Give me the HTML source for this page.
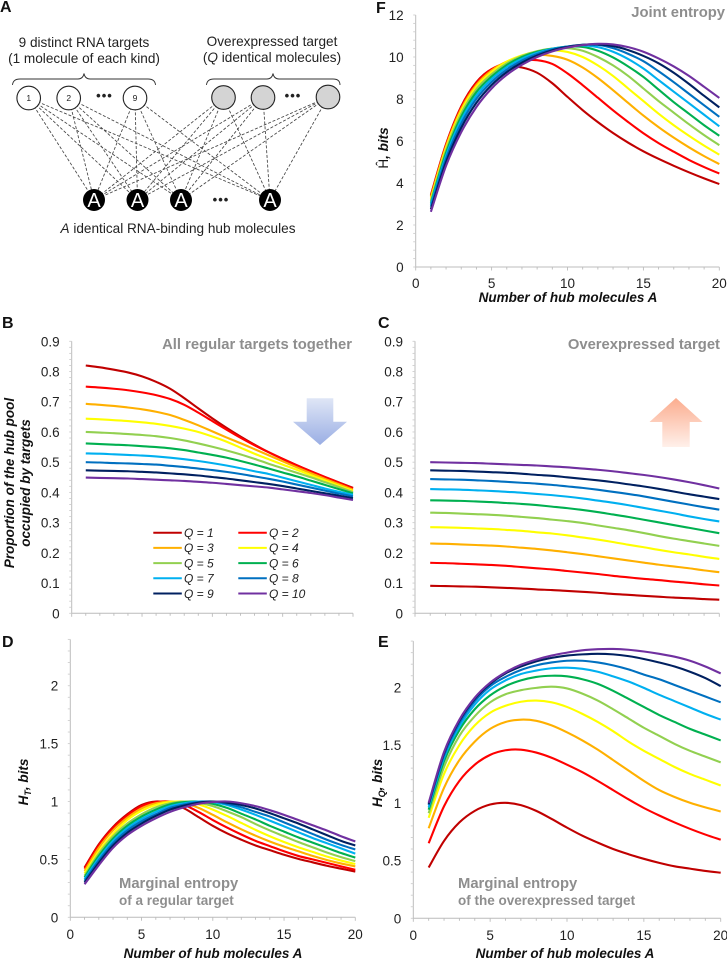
<!DOCTYPE html>
<html lang="en">
<head>
<meta charset="utf-8">
<title>Hub molecule entropy panels</title>
<style>
html,body{margin:0;padding:0;background:#fff;}
svg{display:block;font-family:"Liberation Sans",sans-serif;}
.panel-letter{font-size:16px;font-weight:bold;fill:#111;}
.dia{font-size:13.6px;fill:#222;}
.ttl{font-size:14.8px;font-weight:bold;fill:#8e8e8e;}
.ttl2{font-size:13.5px;font-weight:bold;fill:#8e8e8e;}
.axl{font-size:13.5px;font-weight:bold;font-style:italic;fill:#111;}
.tick{font-size:13.5px;fill:#222;}
.leg{font-size:12px;font-style:italic;fill:#222;}
</style>
</head>
<body>
<svg id="figure" xmlns="http://www.w3.org/2000/svg" width="727" height="961" viewBox="0 0 727 961">
<defs>
<linearGradient id="blueGrad" x1="0" y1="0" x2="0" y2="1"><stop offset="0" stop-color="#dfe6f6"/><stop offset="1" stop-color="#9aaee4"/></linearGradient>
<linearGradient id="redGrad" x1="0" y1="0" x2="0" y2="1"><stop offset="0" stop-color="#fbac8e"/><stop offset="1" stop-color="#fff0ea"/></linearGradient>
</defs>

<text class="panel-letter" x="0" y="12">A</text>
<text class="panel-letter" x="376" y="13">F</text>
<text class="panel-letter" x="2" y="328">B</text>
<text class="panel-letter" x="378" y="328">C</text>
<text class="panel-letter" x="2" y="647">D</text>
<text class="panel-letter" x="378" y="647">E</text>

<g id="diagram">
<text class="dia" x="84" y="47" text-anchor="middle">9 distinct RNA targets</text>
<text class="dia" x="84" y="63" text-anchor="middle">(1 molecule of each kind)</text>
<text class="dia" x="272" y="46" text-anchor="middle">Overexpressed target</text>
<text class="dia" x="272" y="62" text-anchor="middle">(<tspan font-style="italic">Q</tspan> identical molecules)</text>
<path d="M12.5 85 Q13 79 20 79 L78 79 Q83 79 84 73.5 Q85 79 90 79 L148 79 Q155 79 155.5 85" fill="none" stroke="#333" stroke-width="0.9"/>
<path d="M206.5 85 Q207 79 214 79 L267 79 Q272 79 273 73.5 Q274 79 279 79 L333 79 Q340 79 340 85" fill="none" stroke="#333" stroke-width="0.9"/>
<g id="diagramLines"></g>
<g id="diagramNodes"></g>
<text x="104.5" y="100" font-size="13" font-weight="bold" fill="#222" text-anchor="middle" letter-spacing="1">•••</text>
<text x="293" y="100" font-size="13" font-weight="bold" fill="#222" text-anchor="middle" letter-spacing="1">•••</text>
<text x="221" y="204" font-size="13" font-weight="bold" fill="#222" text-anchor="middle" letter-spacing="1">•••</text>
<text class="dia" x="178" y="233" text-anchor="middle"><tspan font-style="italic">A</tspan> identical RNA-binding hub molecules</text>
</g>

<g id="panels"></g>

<path d="M306.7 398.3 H333.3 V421.7 H347 L320 445 L293 421.7 H306.7 Z" fill="url(#blueGrad)"/>
<path d="M676 398 L702.5 422 H689.7 V447 H662.3 V422 H649.5 Z" fill="url(#redGrad)"/>

<text class="ttl" x="725" y="17" text-anchor="end">Joint entropy</text>
<text class="ttl" x="352" y="349" text-anchor="end">All regular targets together</text>
<text class="ttl" x="720" y="349" text-anchor="end">Overexpressed target</text>
<text class="ttl" x="119" y="888">Marginal entropy</text>
<text class="ttl2" x="119" y="905">of a regular target</text>
<text class="ttl" x="458" y="888">Marginal entropy</text>
<text class="ttl2" x="458" y="905">of the overexpressed target</text>

<text class="axl" x="568" y="302" text-anchor="middle">Number of hub molecules A</text>
<text class="axl" x="213" y="958" text-anchor="middle">Number of hub molecules A</text>
<text class="axl" x="565" y="958" text-anchor="middle">Number of hub molecules A</text>
<text class="axl" transform="translate(14,483) rotate(-90)" text-anchor="middle">Proportion of the hub pool</text>
<text class="axl" transform="translate(30,483) rotate(-90)" text-anchor="middle">occupied by targets</text>
<text class="axl" transform="translate(388,148) rotate(-90)" text-anchor="middle"><tspan font-weight="normal" font-style="normal">Ĥ</tspan>, bits</text>
<text class="axl" transform="translate(28,782) rotate(-90)" text-anchor="middle">H<tspan font-size="9" dy="3">T</tspan><tspan dy="-3">, bits</tspan></text>
<text class="axl" transform="translate(382,783) rotate(-90)" text-anchor="middle">H<tspan font-size="9" dy="3">Q</tspan><tspan dy="-3">, bits</tspan></text>
</svg>

<script>
// ---------- shared categories ----------
const hubCounts = [1,2,3,4,5,6,7,8,9,10,11,12,13,14,15,16,17,18,19,20];
const seriesNames = ["Q = 1","Q = 2","Q = 3","Q = 4","Q = 5","Q = 6","Q = 7","Q = 8","Q = 9","Q = 10"];
const seriesColors = ["#c00000","#ff0000","#ffb000","#ffff00","#92d050","#00b050","#00b0f0","#0070c0","#002060","#7030a0"];
const xTickLabels = [0,5,10,15,20];
const yTickLabelsF = [0,2,4,6,8,10,12];
const yTickLabelsBC = [0,0.1,0.2,0.3,0.4,0.5,0.6,0.7,0.8,0.9];
const yTickLabelsDE = [0,0.5,1,1.5,2];

// ---------- panel B: all regular targets together ----------
const panelB_Q1 = [.820,.814,.806,.797,.784,.766,.743,.712,.678,.645,.614,.585,.558,.533,.511,.490,.470,.451,.433,.415];
const panelB_Q2 = [.750,.747,.743,.738,.731,.722,.709,.690,.664,.636,.608,.581,.556,.533,.511,.490,.470,.451,.432,.413];
const panelB_Q3 = [.693,.690,.686,.681,.675,.667,.656,.640,.622,.602,.582,.563,.543,.523,.503,.483,.464,.445,.427,.409];
const panelB_Q4 = [.644,.642,.639,.636,.632,.627,.620,.611,.600,.585,.568,.548,.528,.510,.492,.475,.457,.440,.422,.405];
const panelB_Q5 = [.600,.598,.596,.593,.590,.586,.580,.572,.562,.551,.539,.526,.511,.495,.480,.465,.450,.434,.418,.401];
const panelB_Q6 = [.562,.560,.558,.556,.553,.550,.546,.540,.532,.524,.515,.504,.492,.479,.466,.453,.439,.425,.411,.397];
const panelB_Q7 = [.529,.528,.526,.524,.522,.519,.515,.510,.504,.497,.489,.480,.470,.461,.449,.437,.425,.413,.402,.392];
const panelB_Q8 = [.500,.499,.497,.496,.494,.492,.488,.484,.479,.474,.468,.461,.453,.445,.436,.426,.416,.406,.396,.387];
const panelB_Q9 = [.473,.472,.471,.470,.468,.466,.463,.460,.456,.451,.446,.440,.434,.428,.421,.413,.405,.397,.389,.381];
const panelB_Q10 = [.449,.448,.447,.446,.444,.442,.440,.438,.435,.432,.428,.424,.420,.416,.410,.404,.398,.391,.383,.375];

// ---------- panel C: overexpressed target ----------
const panelC_Q1 = [.091,.090,.089,.088,.086,.084,.082,.079,.077,.074,.071,.068,.064,.061,.058,.055,.052,.050,.047,.045];
const panelC_Q2 = [.167,.166,.164,.162,.160,.157,.153,.149,.145,.140,.135,.130,.124,.119,.114,.110,.105,.101,.096,.092];
const panelC_Q3 = [.231,.230,.228,.226,.224,.221,.217,.213,.208,.202,.196,.189,.182,.175,.168,.161,.155,.149,.142,.136];
const panelC_Q4 = [.285,.284,.283,.281,.279,.276,.273,.268,.264,.258,.251,.244,.236,.227,.219,.210,.202,.195,.187,.180];
const panelC_Q5 = [.333,.332,.330,.328,.326,.323,.319,.315,.310,.305,.299,.291,.283,.275,.266,.256,.247,.239,.231,.223];
const panelC_Q6 = [.374,.373,.372,.370,.368,.365,.362,.358,.353,.348,.342,.335,.327,.319,.310,.301,.292,.283,.274,.265];
const panelC_Q7 = [.411,.410,.409,.407,.405,.402,.399,.395,.391,.386,.380,.373,.366,.358,.349,.340,.331,.321,.312,.304];
const panelC_Q8 = [.444,.443,.442,.440,.438,.435,.432,.429,.425,.420,.415,.409,.402,.395,.387,.378,.369,.360,.351,.343];
const panelC_Q9 = [.473,.472,.471,.469,.467,.465,.462,.458,.455,.450,.445,.440,.434,.427,.420,.412,.403,.394,.386,.378];
const panelC_Q10 = [.500,.499,.498,.497,.495,.493,.491,.489,.486,.483,.479,.475,.470,.464,.458,.451,.443,.434,.424,.413];

// ---------- panel D: marginal entropy of a regular target ----------
const panelD_Q1 = [.43,.63,.78,.89,.97,1.00,.985,.94,.865,.79,.725,.67,.62,.58,.54,.505,.475,.445,.42,.395];
const panelD_Q2 = [.42,.62,.77,.88,.96,.995,1.00,.97,.91,.84,.775,.715,.66,.615,.57,.53,.50,.47,.44,.41];
const panelD_Q3 = [.40,.60,.75,.86,.94,.985,1.00,.985,.945,.885,.82,.76,.705,.655,.61,.57,.53,.495,.465,.44];
const panelD_Q4 = [.38,.57,.72,.84,.92,.97,.995,1.00,.975,.93,.875,.815,.755,.70,.65,.605,.565,.525,.49,.46];
const panelD_Q5 = [.36,.55,.70,.81,.89,.95,.985,1.00,.99,.96,.915,.865,.805,.75,.70,.65,.605,.56,.52,.485];
const panelD_Q6 = [.345,.53,.68,.79,.87,.93,.975,.995,1.00,.98,.945,.895,.845,.79,.74,.69,.645,.60,.555,.515];
const panelD_Q7 = [.33,.51,.66,.77,.85,.91,.96,.985,1.00,.995,.97,.93,.885,.835,.785,.735,.685,.64,.595,.55];
const panelD_Q8 = [.315,.49,.64,.75,.83,.89,.945,.975,.995,1.00,.98,.95,.91,.87,.82,.77,.72,.67,.625,.585];
const panelD_Q9 = [.30,.47,.62,.73,.81,.875,.93,.965,.99,1.00,.99,.97,.94,.90,.855,.81,.76,.71,.66,.62];
const panelD_Q10 = [.285,.45,.60,.71,.79,.855,.91,.95,.98,.995,1.00,.985,.96,.925,.885,.84,.795,.75,.70,.655];

// ---------- panel E: marginal entropy of the overexpressed target ----------
const panelE_Q1 = [.44,.67,.83,.93,.985,1.00,.98,.93,.86,.785,.715,.655,.60,.555,.515,.48,.45,.43,.41,.395];
const panelE_Q2 = [.65,.97,1.19,1.33,1.415,1.455,1.46,1.435,1.39,1.33,1.265,1.19,1.11,1.03,.955,.89,.83,.775,.725,.68];
const panelE_Q3 = [.78,1.13,1.37,1.53,1.64,1.70,1.72,1.71,1.67,1.61,1.54,1.46,1.37,1.28,1.19,1.11,1.05,1.00,.96,.925];
const panelE_Q4 = [.87,1.25,1.50,1.67,1.78,1.84,1.875,1.885,1.87,1.83,1.77,1.70,1.62,1.53,1.45,1.38,1.31,1.25,1.20,1.15];
const panelE_Q5 = [.91,1.31,1.58,1.75,1.87,1.94,1.975,1.995,2.005,1.99,1.945,1.885,1.81,1.73,1.65,1.58,1.51,1.45,1.40,1.35];
const panelE_Q6 = [.94,1.36,1.63,1.81,1.93,2.01,2.06,2.09,2.10,2.095,2.07,2.03,1.97,1.90,1.83,1.76,1.70,1.64,1.59,1.54];
const panelE_Q7 = [.96,1.39,1.66,1.85,1.98,2.06,2.115,2.145,2.165,2.17,2.16,2.135,2.095,2.05,1.995,1.935,1.88,1.825,1.77,1.72];
const panelE_Q8 = [.98,1.41,1.69,1.88,2.01,2.09,2.15,2.19,2.215,2.23,2.23,2.215,2.19,2.155,2.11,2.07,2.02,1.97,1.92,1.87];
const panelE_Q9 = [.99,1.43,1.71,1.90,2.03,2.12,2.18,2.225,2.255,2.275,2.285,2.29,2.285,2.27,2.245,2.215,2.18,2.135,2.08,2.01];
const panelE_Q10 = [1.00,1.44,1.72,1.91,2.04,2.13,2.195,2.24,2.275,2.30,2.32,2.33,2.332,2.325,2.31,2.29,2.265,2.23,2.18,2.12];

// ---------- panel F: joint entropy ----------
const panelF_Q1 = [3.43,5.85,7.65,8.80,9.42,9.55,9.50,9.25,8.75,8.10,7.47,6.90,6.38,5.92,5.51,5.15,4.82,4.51,4.22,3.95];
const panelF_Q2 = [3.38,5.82,7.61,8.76,9.42,9.72,9.83,9.85,9.67,9.22,8.66,8.06,7.46,6.90,6.37,5.90,5.49,5.10,4.76,4.45];
const panelF_Q3 = [3.32,5.75,7.53,8.68,9.36,9.78,10.00,10.10,10.05,9.87,9.50,9.00,8.42,7.81,7.21,6.66,6.16,5.70,5.28,4.90];
const panelF_Q4 = [3.25,5.66,7.43,8.59,9.28,9.78,10.08,10.26,10.32,10.24,10.00,9.60,9.10,8.50,7.90,7.30,6.75,6.25,5.78,5.35];
const panelF_Q5 = [3.15,5.56,7.31,8.47,9.18,9.70,10.05,10.28,10.40,10.42,10.30,10.00,9.60,9.10,8.50,7.90,7.35,6.80,6.28,5.80];
const panelF_Q6 = [3.05,5.44,7.16,8.33,9.07,9.62,10.00,10.25,10.40,10.49,10.48,10.30,9.98,9.55,9.05,8.45,7.85,7.30,6.75,6.25];
const panelF_Q7 = [2.97,5.30,7.00,8.17,8.95,9.52,9.92,10.20,10.39,10.50,10.55,10.47,10.25,9.90,9.45,8.90,8.35,7.80,7.25,6.70];
const panelF_Q8 = [2.87,5.16,6.83,8.01,8.81,9.40,9.83,10.14,10.36,10.50,10.58,10.58,10.42,10.15,9.80,9.32,8.80,8.25,7.70,7.15];
const panelF_Q9 = [2.75,5.00,6.63,7.82,8.66,9.28,9.73,10.07,10.32,10.48,10.58,10.60,10.52,10.33,10.05,9.70,9.25,8.72,8.15,7.60];
const panelF_Q10 = [2.63,4.82,6.42,7.62,8.50,9.15,9.63,10.00,10.27,10.45,10.57,10.63,10.60,10.47,10.25,9.93,9.55,9.10,8.58,8.05];

const SVGNS = "http://www.w3.org/2000/svg";
function mk(tag, attrs, parent){
  const el = document.createElementNS(SVGNS, tag);
  for (const k in attrs) el.setAttribute(k, attrs[k]);
  parent.appendChild(el);
  return el;
}

// ---------- diagram ----------
const regularNodes = [{x:28.7,y:98,t:"1"},{x:68.7,y:98,t:"2"},{x:135,y:98,t:"9"}];
const overexpressedNodes = [{x:223.5,y:97.5},{x:263,y:97.5},{x:328,y:97}];
const hubNodes = [{x:94,y:200},{x:137.5,y:200},{x:181,y:200},{x:270,y:200}];
const lineGroup = document.getElementById("diagramLines");
const nodeGroup = document.getElementById("diagramNodes");
regularNodes.concat(overexpressedNodes).forEach(function(n){
  hubNodes.forEach(function(h){
    const l = mk("line",{x1:n.x,y1:n.y,x2:h.x,y2:h.y,stroke:"#444","stroke-width":0.85,"stroke-dasharray":"3 1.8"},lineGroup);
    
    
  });
});
regularNodes.forEach(function(n){
  const c = mk("circle",{cx:n.x,cy:n.y,r:11.8,fill:"#fff",stroke:"#222","stroke-width":1.1},nodeGroup);
  
  
  const t = mk("text",{x:n.x,y:n.y+3,"text-anchor":"middle","font-size":8.5,fill:"#222"},nodeGroup);
  
  
  t.textContent = n.t;
});
overexpressedNodes.forEach(function(n){
  const c = mk("circle",{cx:n.x,cy:n.y,r:11.8,fill:"#d4d4d4",stroke:"#222","stroke-width":1.1},nodeGroup);
  
  
});
hubNodes.forEach(function(n){
  const c = mk("circle",{cx:n.x,cy:n.y,r:11,fill:"#000"},nodeGroup);
  
  
  const t = mk("text",{x:n.x,y:n.y+7,"text-anchor":"middle","font-size":20,fill:"#fff"},nodeGroup);
  
  
  t.textContent = "A";
});

// ---------- panels ----------
const panels = [
  {id:"b",x0:71.7,x20:353,yBase:613.3,yTop:341.3,yMax:.9,minor:.02,ticks:yTickLabelsBC,xLabels:false,xLabelY:0,
   series:[panelB_Q1,panelB_Q2,panelB_Q3,panelB_Q4,panelB_Q5,panelB_Q6,panelB_Q7,panelB_Q8,panelB_Q9,panelB_Q10]},
  {id:"c",x0:415,x20:719.3,yBase:613.3,yTop:341.3,yMax:.9,minor:.02,ticks:yTickLabelsBC,xLabels:false,xLabelY:0,
   series:[panelC_Q1,panelC_Q2,panelC_Q3,panelC_Q4,panelC_Q5,panelC_Q6,panelC_Q7,panelC_Q8,panelC_Q9,panelC_Q10]},
  {id:"d",x0:70.3,x20:355.3,yBase:917.3,yTop:639.4,yMax:2.4,minor:.1,ticks:yTickLabelsDE,xLabels:true,xLabelY:939,
   series:[panelD_Q1,panelD_Q2,panelD_Q3,panelD_Q4,panelD_Q5,panelD_Q6,panelD_Q7,panelD_Q8,panelD_Q9,panelD_Q10]},
  {id:"e",x0:413.3,x20:720.7,yBase:918.3,yTop:641.1,yMax:2.4,minor:.1,ticks:yTickLabelsDE,xLabels:true,xLabelY:940,
   series:[panelE_Q1,panelE_Q2,panelE_Q3,panelE_Q4,panelE_Q5,panelE_Q6,panelE_Q7,panelE_Q8,panelE_Q9,panelE_Q10]},
  {id:"f",x0:415.7,x20:719.3,yBase:267,yTop:15,yMax:12,minor:.4,ticks:yTickLabelsF,xLabels:true,xLabelY:288,
   series:[panelF_Q1,panelF_Q2,panelF_Q3,panelF_Q4,panelF_Q5,panelF_Q6,panelF_Q7,panelF_Q8,panelF_Q9,panelF_Q10]}
];
function xScale(p,v){ return p.x0 + (p.x20 - p.x0) * v / 20; }
function yScale(p,v){ return p.yBase - (p.yBase - p.yTop) * v / p.yMax; }
function smoothPath(pts){
  let d = "M" + pts[0][0].toFixed(2) + " " + pts[0][1].toFixed(2);
  for (let i = 0; i < pts.length - 1; i++){
    const p0 = pts[Math.max(0,i-1)], p1 = pts[i], p2 = pts[i+1], p3 = pts[Math.min(pts.length-1,i+2)];
    const c1x = p1[0] + (p2[0]-p0[0])/6, c1y = p1[1] + (p2[1]-p0[1])/6;
    const c2x = p2[0] - (p3[0]-p1[0])/6, c2y = p2[1] - (p3[1]-p1[1])/6;
    d += " C" + c1x.toFixed(2) + " " + c1y.toFixed(2) + " " + c2x.toFixed(2) + " " + c2y.toFixed(2) + " " + p2[0].toFixed(2) + " " + p2[1].toFixed(2);
  }
  return d;
}
const panelsRoot = document.getElementById("panels");
const AXIS = "#bcbcbc";
panels.forEach(function(p){
  const g = mk("g",{},panelsRoot);
  
  
  const yAxis = mk("line",{x1:p.x0,x2:p.x0,y1:p.yTop,y2:p.yBase,stroke:AXIS,"stroke-width":1},g);
  
  
  const xAxis = mk("line",{x1:p.x0,x2:p.x20,y1:p.yBase,y2:p.yBase,stroke:AXIS,"stroke-width":1},g);
  
  
  const nMinor = Math.round(p.yMax / p.minor);
  for (let i = 0; i <= nMinor; i++){
    const y = yScale(p, i * p.minor);
    const m = mk("line",{x1:p.x0-2.5,x2:p.x0,y1:y,y2:y,stroke:"#cfcfcf","stroke-width":0.9},g);
    
    
  }
  for (let i = 0; i <= 20; i++){
    const x = xScale(p, i);
    const m = mk("line",{x1:x,x2:x,y1:p.yBase,y2:p.yBase+(i%5===0?3.5:2.5),stroke:AXIS,"stroke-width":0.9},g);
    
    
  }
  p.ticks.forEach(function(v){
    const t = mk("text",{class:"tick",x:p.x0-12,y:yScale(p,v)+5,"text-anchor":"end"},g);
    
    
    t.textContent = String(v);
  });
  if (p.xLabels){
    xTickLabels.forEach(function(v){
      const t = mk("text",{class:"tick",x:xScale(p,v),y:p.xLabelY,"text-anchor":"middle"},g);
      
      
      t.textContent = String(v);
    });
  }
  p.series.forEach(function(vals,i){
    const pts = vals.map(function(v,k){ return [xScale(p,hubCounts[k]), yScale(p,v)]; });
    const path = mk("path",{d:smoothPath(pts),fill:"none",stroke:seriesColors[i],"stroke-width":2.1,"stroke-linejoin":"round"},g);
    
    
  });
});

// ---------- legend (panel B) ----------
const legendGroup = mk("g",{},panelsRoot);


seriesNames.forEach(function(name,i){
  const col = i % 2, row = Math.floor(i / 2);
  const lx = col === 0 ? 153.3 : 238.3;
  const ly = 532.7 + row * 15.2;
  const sw = mk("line",{x1:lx,x2:lx+28.5,y1:ly,y2:ly,stroke:seriesColors[i],"stroke-width":2},legendGroup);
  
  
  const t = mk("text",{class:"leg",x:lx+30.7,y:ly+4.3},legendGroup);
  
  
  t.textContent = name;
});
</script>
</body>
</html>
